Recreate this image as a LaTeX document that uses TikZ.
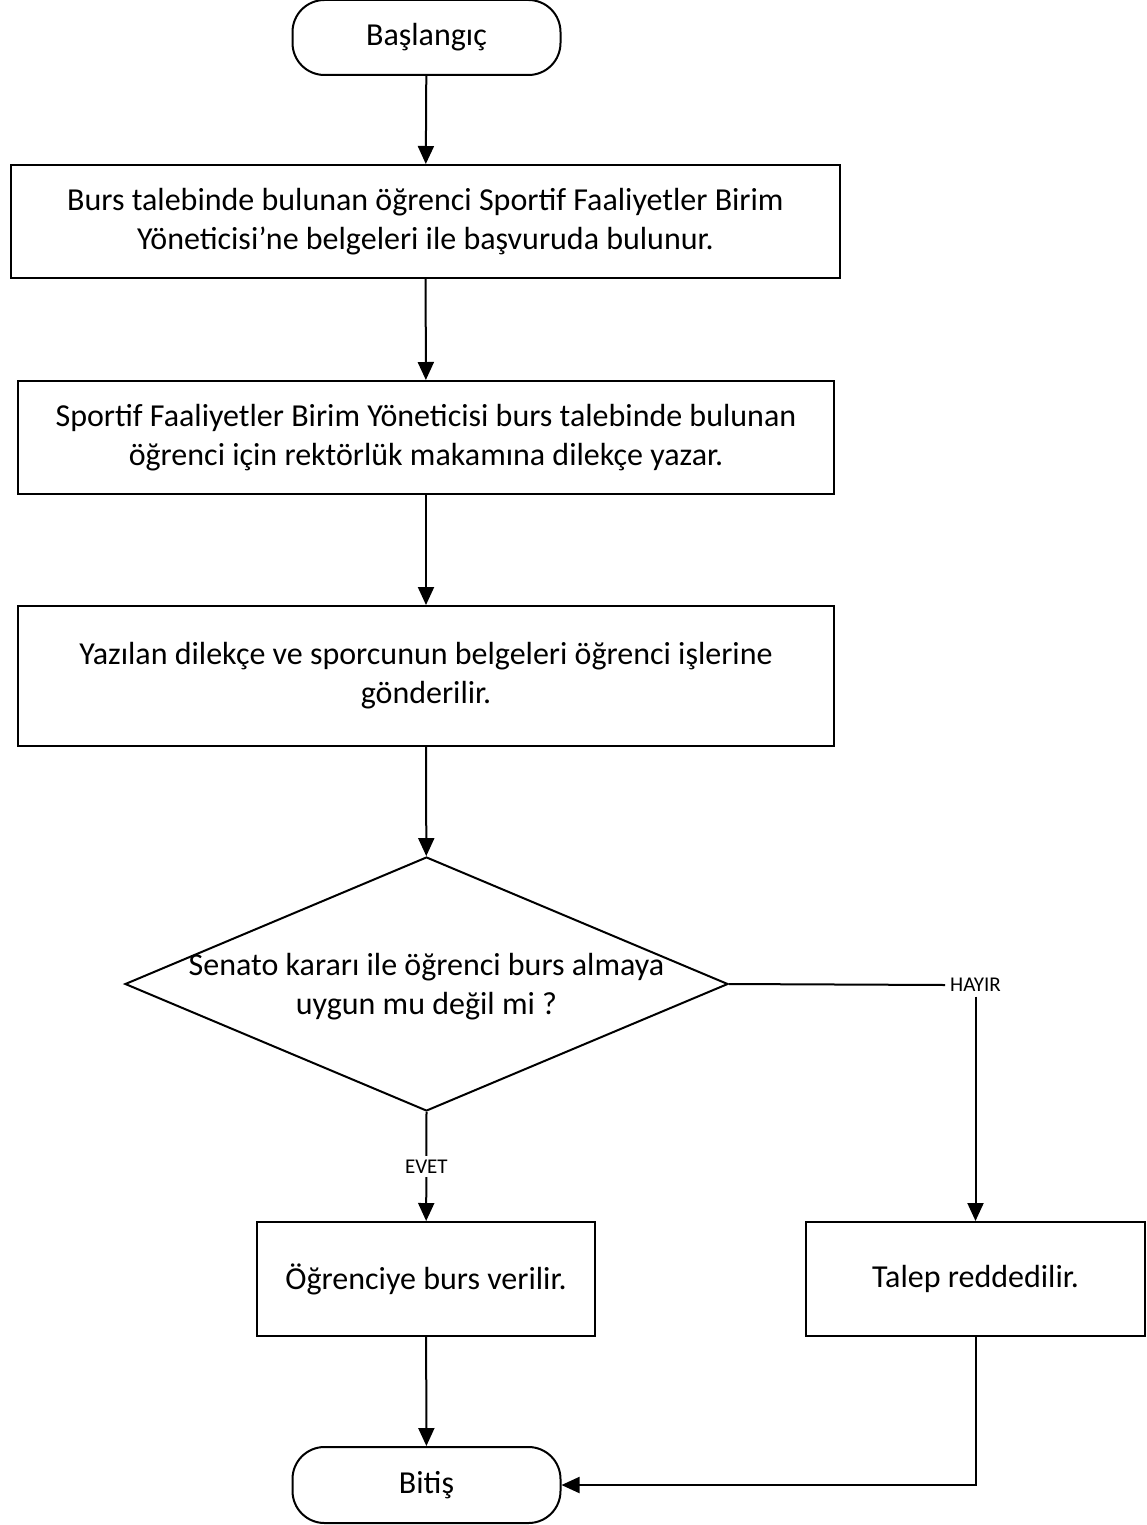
\documentclass[tikz,border=0pt]{standalone}
\usepackage{fontspec}
\setmainfont{Carlito}
\usetikzlibrary{arrows.meta,shapes.geometric,positioning}

\begin{document}
\begin{tikzpicture}[x=0.5pt,y=-0.5pt,line width=1pt,
	every node/.style={font=\fontsize{16}{19.5}\selectfont,align=center},
	terminal/.style={draw,rectangle,rounded corners=16pt,minimum width=134pt,minimum height=37.5pt,inner sep=0pt},
	process/.style={draw,rectangle,inner sep=0pt},
	decision/.style={draw,diamond,inner sep=0pt,minimum width=301.5pt,minimum height=127pt},
	answer/.style={font=\fontsize{10.5}{12}\selectfont,inner sep=2pt},
	flow/.style={-{Triangle[length=9pt,width=8pt]}}]
	
	\useasboundingbox (0,0) rectangle (1146,1525);
	
	%%%%%%%%%%%%%%%%%%%%%%%%%%%%%%%%%%%%%%%%%%%%%%%%%%%%%%
	
	\node [terminal] (start) at (426.5,37.5) {Başlangıç};
	
	\node [process,minimum width=414.5pt,minimum height=56.5pt] (apply) at (425.5,221.5)
	{Burs talebinde bulunan öğrenci Sportif Faaliyetler Birim\\Yöneticisi’ne belgeleri ile başvuruda bulunur.};
	
	\node [process,minimum width=408pt,minimum height=56.5pt] (petition) at (426,437.5)
	{Sportif Faaliyetler Birim Yöneticisi burs talebinde bulunan\\öğrenci için rektörlük makamına dilekçe yazar.};
	
	\node [process,minimum width=408pt,minimum height=70pt] (send) at (426,676)
	{Yazılan dilekçe ve sporcunun belgeleri öğrenci işlerine\\gönderilir.};
	
	%%%%%%%%%%%%%%%%%%%%%%%%%%%%%%%%%%%%%%%%%%%%%%%%%%%%%%
	
	\node [decision] (senate) at (426.5,984) {};
	\node (senate-text) at (426.5,987) {Senato kararı ile öğrenci burs almaya\\uygun mu değil mi ?};
	
	\node [process,minimum width=169pt,minimum height=57pt] (grant) at (426,1279) {Öğrenciye burs verilir.};
	\node [process,minimum width=169.5pt,minimum height=57pt] (reject) at (975.5,1279) {Talep reddedilir.};
	
	\node [answer] (no) at (975.5,985) {HAYIR};
	
	\node [terminal,minimum height=38pt] (end) at (426.5,1485) {Bitiş};
	
	%%%%%%%%%%%%%%%%%%%%%%%%%%%%%%%%%%%%%%%%%%%%%%%%%%%%%%
	
	\draw [flow] (start) -- (apply);
	\draw [flow] (apply) -- (petition);
	\draw [flow] (petition) -- (send);
	\draw [flow] (send) -- (senate);
	\draw [flow] (senate.south) -- node [answer,fill=white] (yes) {EVET} (grant);
	\draw (senate.east) -- (no.west);
	\draw [flow] (no.south) -- (reject.north);
	\draw [flow] (grant) -- (end);
	\draw [flow] (reject.south) |- (end.east);
	
\end{tikzpicture}
\end{document}
